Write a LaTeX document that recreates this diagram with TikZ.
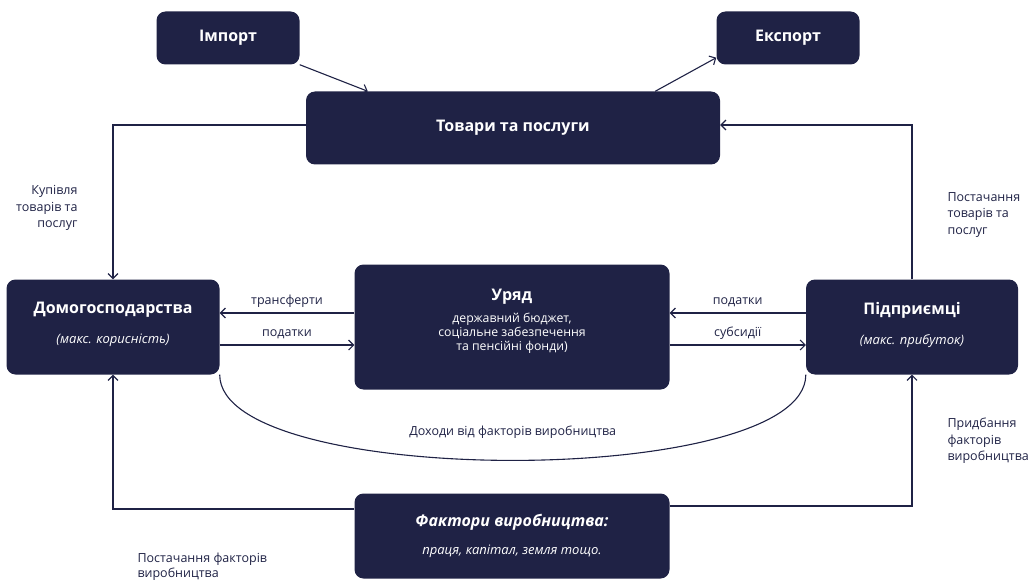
\documentclass[tikz,border=0pt]{standalone}
\usepackage{fontspec}
\setmainfont{Open Sans}
\usetikzlibrary{arrows.meta}
\definecolor{navy}{HTML}{1F2245}
\newcommand\boxtitle[1]{{\fontsize{16}{19}\selectfont\bfseries #1}}

\begin{document}
\begin{tikzpicture}[x=1pt,y=-1pt,
    box/.style={rounded corners=9pt,fill=navy,text=white,align=center,inner sep=0pt,
      font=\fontsize{12.3}{14}\selectfont},
    lbl/.style={text=navy,font=\fontsize{12.5}{16.5}\selectfont},
    flow/.style={draw=navy,line width=1.1pt,-{Straight Barb[length=5pt,width=10pt]}}]
    \useasboundingbox (0,0) rectangle (1030,580);

    \node[box,minimum width=143,minimum height=53] (I) at (228,38) {\boxtitle{Імпорт}};
    \node[box,minimum width=143,minimum height=53] (E) at (788,38) {\boxtitle{Експорт}};
    \node[box,minimum width=414,minimum height=73] (T) at (513,128) {\boxtitle{Товари та послуги}};
    \node[box,minimum width=213,minimum height=95,font=\fontsize{13}{16}\selectfont] (D) at (113,327)
        {\boxtitle{Домогосподарства}\\[14pt]\itshape (макс. корисність)\\[-8pt]\mbox{}};
    \node[box,minimum width=315,minimum height=125] (U) at (512,327)
        {\boxtitle{Уряд}\\[8pt]державний бюджет,\\соціальне забезпечення\\та пенсійні фонди)\\[0pt]\mbox{}};
    \node[box,minimum width=212,minimum height=95,font=\fontsize{13}{16}\selectfont] (P) at (912,327)
        {\boxtitle{Підприємці}\\[14pt]\itshape (макс. прибуток)\\[-8pt]\mbox{}};
    \node[box,minimum width=315,minimum height=85,font=\fontsize{13}{16}\selectfont] (F) at (512,536)
        {\boxtitle{\itshape Фактори виробництва:}\\[12pt]\itshape праця, капітал, земля тощо.};

    \draw[flow] (I.south east) -- ([xshift=62pt]T.north west);
    \draw[flow] ([xshift=-65pt]T.north east) -- ([yshift=7pt]E.south west);

    \draw[flow] ([yshift=3pt]T.west) -| (D);
    \draw[flow] (P) |- ([yshift=3pt]T.east);

    \draw[flow] ([yshift=14pt]U.west) -- node[lbl,above=2pt] (tr) {трансферти} ([yshift=14pt]D.east);
    \draw[flow] ([yshift=-18pt]D.east) -- node[lbl,above=2pt] (pd) {податки} ([yshift=-18pt]U.west);
    \draw[flow] ([yshift=14pt]P.west) -- node[lbl,above=2pt] (pf) {податки} ([yshift=14pt]U.east);
    \draw[flow] ([yshift=-18pt]U.east) -- node[lbl,above=2pt] (sb) {субсидії} ([yshift=-18pt]P.west);

    \draw[navy,line width=1.1pt] (D.south east) to[out=-90,in=-90,looseness=0.5]
        node[lbl,above=18pt] (dx) {Доходи від факторів виробництва} (P.south west);

    \draw[flow] ([yshift=27pt]F.west) -| (D);
    \draw[flow] ([yshift=30pt]F.east) -| (P);

    \node[lbl,align=right,anchor=east] (kup) at (81,208) {Купівля\\товарів та\\послуг};
    \node[lbl,align=left,anchor=west] (post) at (944,215) {Постачання\\товарів та\\послуг};
    \node[lbl,align=left,anchor=west] (prid) at (944,441) {Придбання\\факторів\\виробництва};
    \node[lbl,align=left,anchor=north west,font=\fontsize{12.5}{15}\selectfont] (postf) at (134,549) {Постачання факторів\\виробництва};
\end{tikzpicture}
\end{document}
